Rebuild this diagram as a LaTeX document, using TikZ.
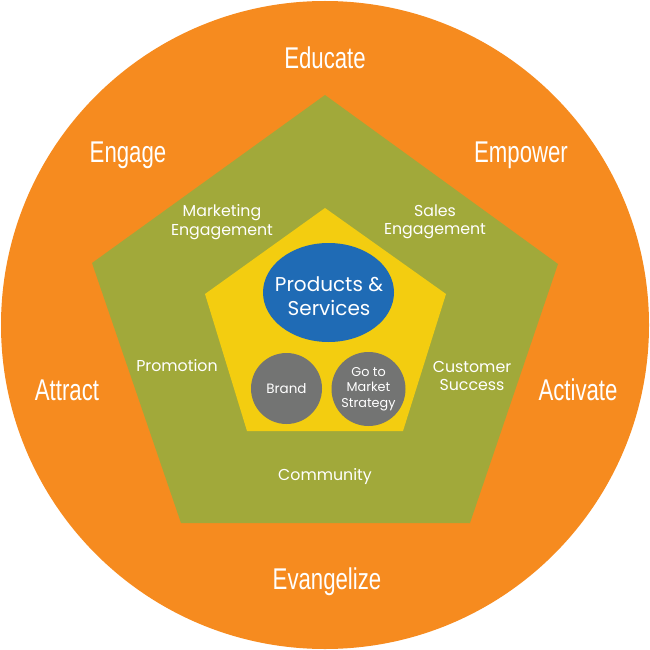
\documentclass[tikz,border=0pt]{standalone}
\usepackage{fontspec}
\setmainfont{Poppins}
\newfontfamily\narrowfont[FakeStretch=0.74]{Liberation Sans}
\usetikzlibrary{positioning,shapes.geometric}

\begin{document}
\begin{tikzpicture}[x=1pt, y=-1pt,
    outerlabel/.style={text=white, font=\narrowfont\fontsize{30}{32}\selectfont},
    innerlabel/.style={text=white, align=center, font=\fontsize{15.8}{18.5}\selectfont},
    smalllabel/.style={text=white, align=center, font=\fontsize{13.5}{15.5}\selectfont}]

    % Farben
    \definecolor{ringorange}{RGB}{246,139,31}
    \definecolor{olivegreen}{RGB}{161,169,58}
    \definecolor{coreyellow}{RGB}{243,205,16}
    \definecolor{coreblue}{RGB}{31,107,181}
    \definecolor{coregray}{RGB}{115,116,115}

    \useasboundingbox (0,0) rectangle (650,650);

    % --- Flaechen ---
    \fill[ringorange] (325,325) circle (324);
    \fill[olivegreen] (325,95) -- (558,264) -- (470,523) -- (181,523) -- (92,263) -- cycle;
    \fill[coreyellow] (325,208) -- (446,294) -- (403,431) -- (247,431) -- (205,294) -- cycle;

    % --- Kern ---
    \node[ellipse, fill=coreblue, minimum width=131, minimum height=99, inner sep=0pt] (products) at (328.5,292.5) {};
    \node[text=white, align=center, font=\fontsize{20}{23.5}\selectfont] (productstext) at (329,296) {Products \&\\Services};
    \node[circle, fill=coregray, minimum size=71, inner sep=0pt, smalllabel] (brand) at (286.5,388.5) {Brand};
    \node[circle, fill=coregray, minimum size=74, inner sep=0pt, smalllabel, font=\fontsize{12.8}{15.5}\selectfont] (gtm) at (368.5,389) {Go to\\Market\\Strategy};

    % --- Mittlerer Ring ---
    \node[innerlabel] (marketing) at (222,222) {Marketing\\Engagement};
    \node[innerlabel] (sales) at (435,222) {Sales\\Engagement};
    \node[innerlabel] (promotion) at (177,366) {Promotion};
    \node[innerlabel] (customer) at (472,376) {Customer\\Success};
    \node[innerlabel] (community) at (325,477) {Community};

    % --- Aeusserer Ring ---
    \node[outerlabel] (educate) at (325,58) {Educate};
    \node[outerlabel] (engage) at (128,155) {Engage};
    \node[outerlabel] (empower) at (521,155) {Empower};
    \node[outerlabel] (attract) at (67,390) {Attract};
    \node[outerlabel] (activate) at (578,390) {Activate};
    \node[outerlabel] (evangelize) at (327,582) {Evangelize};

\end{tikzpicture}
\end{document}
